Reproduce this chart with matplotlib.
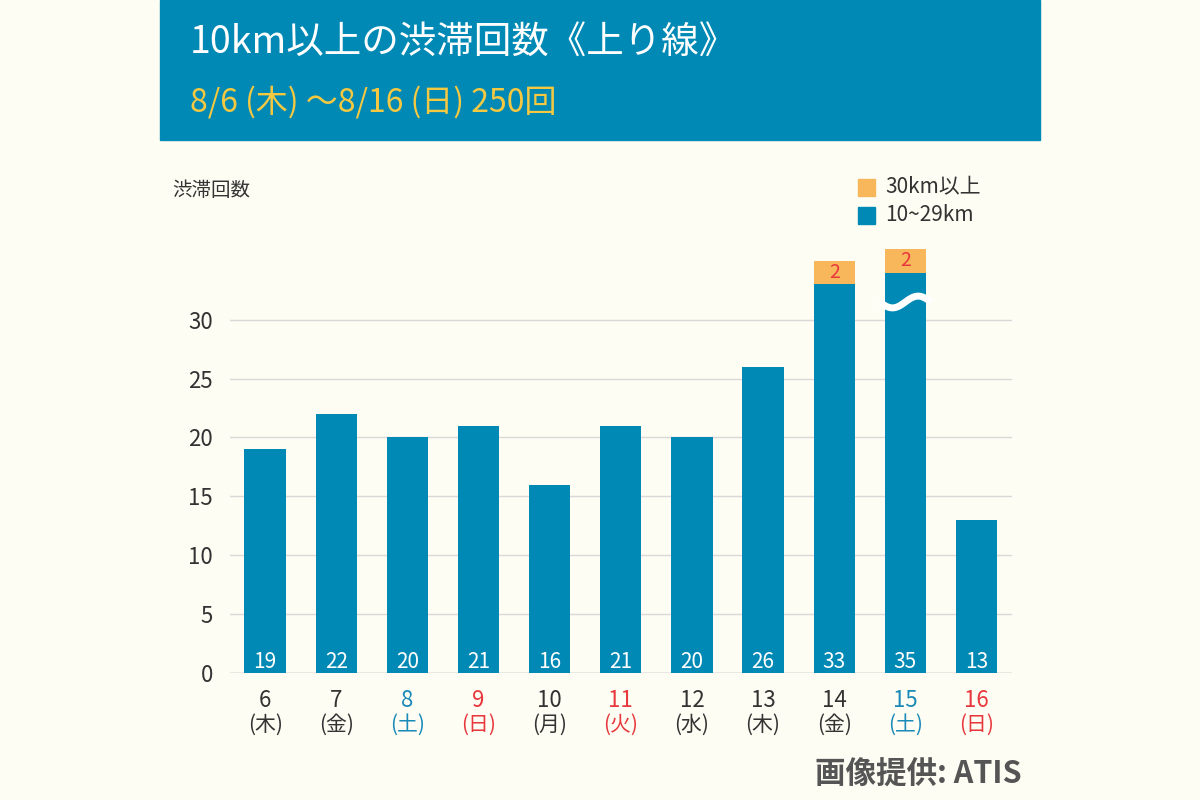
import matplotlib.pyplot as plt
from matplotlib.patches import Rectangle
import numpy as np

plt.rcParams['font.family'] = ['Noto Sans CJK JP', 'DejaVu Sans']

days = ['6', '7', '8', '9', '10', '11', '12', '13', '14', '15', '16']
weekdays = ['(木)', '(金)', '(土)', '(日)', '(月)', '(火)', '(水)', '(木)', '(金)', '(土)', '(日)']
day_colors = ['#333333', '#333333', '#1a8ab8', '#e8383d', '#333333', '#e8383d',
              '#333333', '#333333', '#333333', '#1a8ab8', '#e8383d']
mid_jams = [19, 22, 20, 21, 16, 21, 20, 26, 33, 35, 13]
long_jams = [0, 0, 0, 0, 0, 0, 0, 0, 2, 2, 0]
axis_cap = 34  # bars above this are drawn broken

blue = '#0089b4'
orange = '#f7b75a'
bg = '#fdfdf3'

fig = plt.figure(figsize=(12, 8), dpi=100, facecolor=bg)

# header
fig.patches.append(Rectangle((160/1200, 1 - 140/800), 880/1200, 140/800,
                             transform=fig.transFigure, color=blue, zorder=0))
fig.text(190/1200, 1 - 42/800, '10km以上の渋滞回数《上り線》', color='white',
         fontsize=27, va='center', ha='left')
fig.text(190/1200, 1 - 102/800, '8/6 (木) ～8/16 (日) 250回', color='#f5c842',
         fontsize=23, va='center', ha='left')

ax = fig.add_axes([229.5/1200, 127/800, 782.5/1200, 424/800])
ax.set_facecolor(bg)
x = np.arange(len(days))
shown = [min(v, axis_cap) for v in mid_jams]
ax.bar(x, shown, width=0.58, color=blue, zorder=2)
ax.bar(x, long_jams, width=0.58, bottom=shown, color=orange, zorder=2)

for i, v in enumerate(mid_jams):
    ax.text(i, 0.9, str(v), color='white', ha='center', va='center', fontsize=15, zorder=3)
    if long_jams[i]:
        ax.text(i, shown[i] + long_jams[i] / 2, str(long_jams[i]), color='#e8383d',
                ha='center', va='center', fontsize=14, zorder=3)
    if v > axis_cap:
        wx = np.linspace(i - 0.36, i + 0.36, 50)
        wy = 31.5 + 0.5 * np.sin((wx - i) / 0.36 * np.pi)
        ax.plot(wx, wy, color='white', linewidth=5, zorder=4, solid_capstyle='butt')

ax.set_xlim(-0.5, len(days) - 0.5)
ax.set_ylim(0, 36)
ax.set_yticks(range(0, 31, 5))
ax.yaxis.grid(True, color='#d9d9d9', linewidth=1, zorder=1)
ax.set_axisbelow(True)
for s in ax.spines.values():
    s.set_visible(False)
ax.axhline(0, color='#bbbbbb', linewidth=1, zorder=1)
ax.tick_params(axis='both', length=0, labelsize=16, labelcolor='#333333')
ax.tick_params(axis='y', pad=12)
ax.set_xticks(x)
ax.set_xticklabels([''] * len(days))
for i in range(len(days)):
    ax.text(i, -2.3, days[i], color=day_colors[i], ha='center', va='center',
            fontsize=16, transform=ax.transData)
    ax.text(i, -4.4, weekdays[i], color=day_colors[i], ha='center', va='center',
            fontsize=15, transform=ax.transData)

fig.text(172/1200, 1 - 190/800, '渋滞回数', fontsize=14, color='#333333', va='center')

# legend
for yy, col, lab in [(187, orange, '30km以上'), (215, blue, '10~29km')]:
    fig.patches.append(Rectangle((858/1200, 1 - (yy + 9)/800), 17/1200, 17/800,
                                 transform=fig.transFigure, color=col))
    fig.text(885/1200, 1 - yy/800, lab, fontsize=15, color='#333333', va='center')

fig.text(1022/1200, 1 - 775/800, '画像提供: ATIS', fontsize=22, color='#555555',
         ha='right', va='center', fontweight='bold')

plt.savefig('out.png', dpi=100, facecolor=bg)
